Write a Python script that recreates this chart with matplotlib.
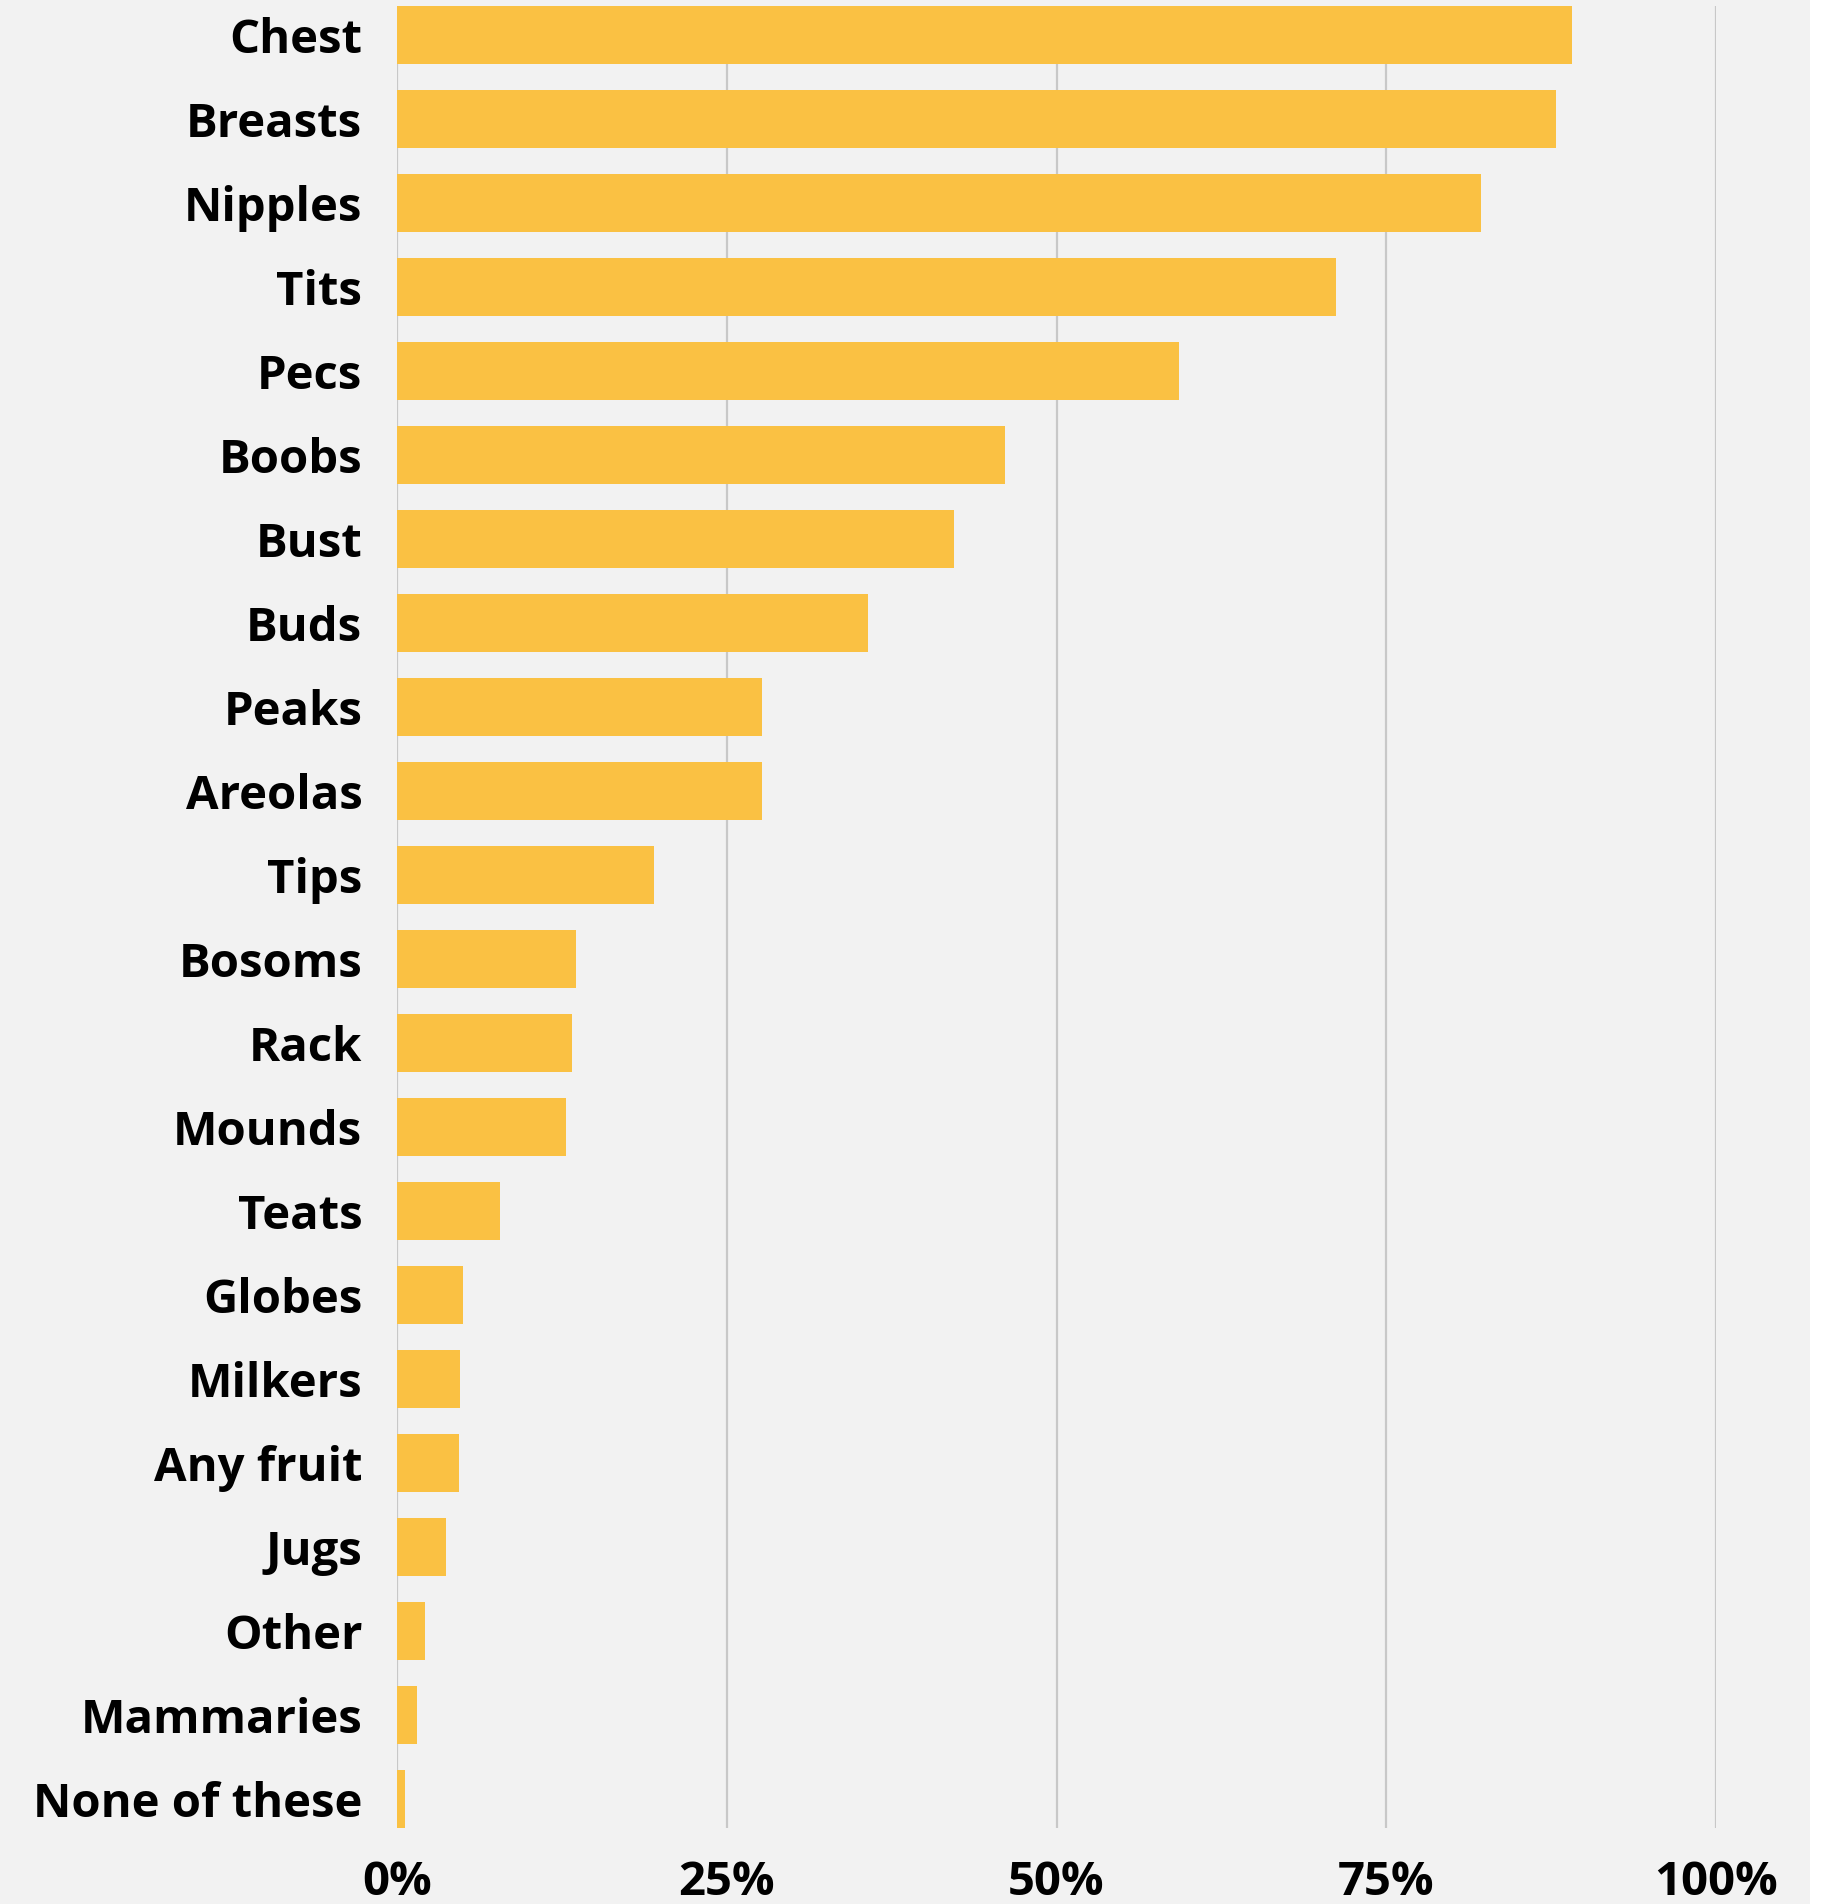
import matplotlib.pyplot as plt
from matplotlib.patches import Rectangle
from matplotlib.ticker import FuncFormatter

categories = ['Chest', 'Breasts', 'Nipples', 'Tits', 'Pecs', 'Boobs', 'Bust', 'Buds',
              'Peaks', 'Areolas', 'Tips', 'Bosoms', 'Rack', 'Mounds', 'Teats', 'Globes',
              'Milkers', 'Any fruit', 'Jugs', 'Other', 'Mammaries', 'None of these']
values = [89.1, 87.9, 82.2, 71.2, 59.3, 46.1, 42.2, 35.7,
          27.7, 27.7, 19.5, 13.6, 13.3, 12.8, 7.8, 5.0,
          4.8, 4.7, 3.7, 2.1, 1.5, 0.6]
ticks = [0, 25, 50, 75, 100]

W, H = 1829, 1904
fig = plt.figure(figsize=(W / 100, H / 100), dpi=100, facecolor='#F2F2F2')
# white strip on the right edge
fig.patches.append(Rectangle((1810 / W, 0), 1 - 1810 / W, 1, transform=fig.transFigure,
                             facecolor='white', edgecolor='none', zorder=-1))

left, right = 397 / W, 1716 / W
top, bottom = 1 - 6 / H, 1 - 1828 / H
ax = fig.add_axes([left, bottom, right - left, top - bottom])
ax.set_facecolor('#F2F2F2')

bar_h = 0.69
y = list(range(len(categories)))
ax.barh(y, values, height=bar_h, color='#FAC143', zorder=2)

ax.set_ylim(len(categories) - 1 + bar_h / 2, -bar_h / 2)
ax.set_xlim(0, 100)
ax.set_yticks(y)
ax.set_yticklabels(categories)
ax.set_xticks(ticks)
ax.xaxis.set_major_formatter(FuncFormatter(lambda v, p: f'{v:.0f}%'))

for t in ticks:
    ax.axvline(t, color='#C8C8C8', linewidth=1.6, zorder=1)

for s in ax.spines.values():
    s.set_visible(False)
ax.tick_params(axis='both', length=0)
ax.tick_params(axis='y', pad=25)
ax.tick_params(axis='x', pad=22)
for lbl in ax.get_yticklabels() + ax.get_xticklabels():
    lbl.set_fontfamily(['Open Sans', 'DejaVu Sans'])
    lbl.set_fontweight('bold')
    lbl.set_fontsize(34)
    lbl.set_color('black')

fig.savefig('out.png', dpi=100, facecolor=fig.get_facecolor())
